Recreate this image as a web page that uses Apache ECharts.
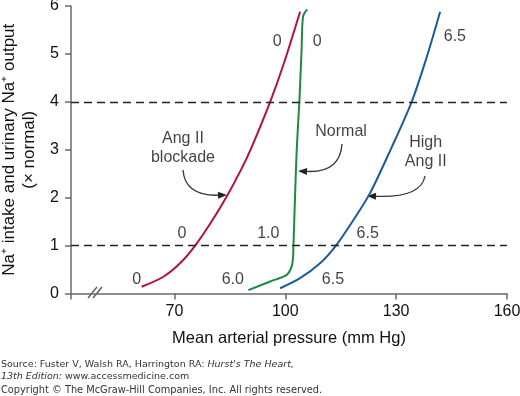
<!DOCTYPE html>
<html>
<head>
<meta charset="utf-8">
<style>
  html, body { margin: 0; padding: 0; background: #fff; }
  #chart { width: 520px; height: 396px; }
</style>
<script src="https://cdn.jsdelivr.net/npm/echarts@6/dist/echarts.min.js"></script>
</head>
<body>
<div id="chart"></div>
<script>
// curves: mean arterial pressure (mm Hg) vs Na+ output (x normal)
var blockadeX = [61.1, 67.0, 71.5, 75.5, 79.7, 84.1, 88.0, 90.7, 95.9, 99.6, 104.0]
var blockadeY = [0.14, 0.35, 0.63, 0.99, 1.46, 2.02, 2.58, 3.02, 4.00, 4.80, 5.88]
var normalX = [90.0, 95.9, 100.4, 101.7, 102.1, 102.2, 102.6, 103.1, 103.8, 104.4, 104.8, 105.9]
var normalY = [0.07, 0.25, 0.39, 0.56, 0.76, 0.99, 1.95, 3.02, 4.00, 5.08, 5.78, 5.93]
var highX = [98.6, 104.0, 109.4, 113.6, 118.4, 122.9, 128.6, 134.2, 138.3, 141.9]
var highY = [0.11, 0.32, 0.63, 0.99, 1.53, 2.09, 3.02, 4.00, 4.94, 5.88]

var dashedLevels = [1, 4]
var xTicks = [70, 100, 130, 160]

// small numbers next to the curves
var noteText = ['0', '0', '0', '6.0', '1.0', '0', '6.5', '6.5', '6.5']
var noteX = [59.8, 72.0, 97.8, 85.8, 95.4, 108.6, 112.9, 122.3, 145.9]
var noteY = [0.28, 1.26, 5.25, 0.28, 1.24, 5.25, 0.30, 1.26, 5.37]

var curveNames = ['Ang II\nblockade', 'Normal', 'High\nAng II']
var curveNameX = [72.3, 115.1, 138.0]
var curveNameY = [3.04, 3.37, 2.95]

var font = '"Liberation Sans", Arial, sans-serif'
var smallFont = '"DejaVu Sans", Verdana, sans-serif'

function zip(xs, ys) {
  return xs.map(function(x, i) { return [x, ys[i]] })
}

// curved arrow: quadratic bezier + filled head
function arrow(x1, y1, cx, cy, x2, y2) {
  var dx = x2 - cx
  var dy = y2 - cy
  var len = Math.sqrt(dx * dx + dy * dy)
  var ux = dx / len
  var uy = dy / len
  var hl = 9
  var hw = 3.5
  var bx = x2 - ux * hl
  var by = y2 - uy * hl
  return [
    {
      type: 'bezierCurve',
      shape: { x1: x1, y1: y1, cpx1: cx, cpy1: cy, x2: bx, y2: by },
      style: { stroke: '#333', lineWidth: 1.3, fill: null }
    },
    {
      type: 'polygon',
      shape: { points: [[x2, y2], [bx - uy * hw, by + ux * hw], [bx + uy * hw, by - ux * hw]] },
      style: { fill: '#222' }
    }
  ]
}

var chart = echarts.init(document.getElementById('chart'))

var axisColor = '#6a6a6a'

chart.setOption({
  animation: false,
  backgroundColor: '#fff',
  grid: { left: 71, right: 13, top: 6, bottom: 102.5, outerBoundsMode: 'none' },
  xAxis: {
    type: 'value',
    min: 42,
    max: 160,
    name: 'Mean arterial pressure (mm Hg)',
    nameLocation: 'middle',
    nameGap: 36,
    nameTextStyle: { fontFamily: font, fontSize: 16.5, color: '#111' },
    axisLine: { show: true, lineStyle: { color: axisColor, width: 1.5 } },
    axisTick: { show: true, length: 6, lineStyle: { color: axisColor, width: 1.5 }, customValues: [42].concat(xTicks) },
    axisLabel: { fontFamily: font, fontSize: 16, color: '#111', margin: 10, customValues: xTicks },
    splitLine: { show: false }
  },
  yAxis: {
    type: 'value',
    min: 0,
    max: 6,
    interval: 1,
    name: 'Na\u207A intake and urinary Na\u207A output\n(\u00D7 normal)',
    nameLocation: 'middle',
    nameGap: 25,
    nameTextStyle: { fontFamily: font, fontSize: 17, color: '#111', lineHeight: 20 },
    axisLine: { show: true, lineStyle: { color: axisColor, width: 1.5 } },
    axisTick: { show: true, length: 6, lineStyle: { color: axisColor, width: 1.5 } },
    axisLabel: { fontFamily: font, fontSize: 16, color: '#111', margin: 12 },
    splitLine: { show: false }
  },
  series: [
    {
      name: 'Ang II blockade',
      type: 'line',
      data: zip(blockadeX, blockadeY),
      smooth: 0.3,
      showSymbol: false,
      lineStyle: { color: '#b3123e', width: 2 },
      markLine: {
        silent: true,
        symbol: 'none',
        label: { show: false },
        lineStyle: { color: '#222', type: [8, 5], width: 1.3 },
        data: dashedLevels.map(function(v) { return { yAxis: v } })
      }
    },
    {
      name: 'Normal',
      type: 'line',
      data: zip(normalX, normalY),
      smooth: 0.3,
      showSymbol: false,
      lineStyle: { color: '#1d8a3e', width: 2 }
    },
    {
      name: 'High Ang II',
      type: 'line',
      data: zip(highX, highY),
      smooth: 0.3,
      showSymbol: false,
      lineStyle: { color: '#1b5b98', width: 2 }
    },
    {
      name: 'notes',
      type: 'scatter',
      symbolSize: 1,
      itemStyle: { color: 'rgba(0,0,0,0)' },
      silent: true,
      data: noteX.map(function(x, i) { return [x, noteY[i], noteText[i]] }),
      label: {
        show: true,
        position: 'inside',
        formatter: function(p) { return p.data[2] },
        fontFamily: font,
        fontSize: 16,
        color: '#111'
      }
    },
    {
      name: 'curve names',
      type: 'scatter',
      symbolSize: 1,
      itemStyle: { color: 'rgba(0,0,0,0)' },
      silent: true,
      data: curveNameX.map(function(x, i) { return [x, curveNameY[i], curveNames[i]] }),
      label: {
        show: true,
        position: 'inside',
        formatter: function(p) { return p.data[2] },
        fontFamily: font,
        fontSize: 16,
        lineHeight: 19,
        align: 'center',
        color: '#111'
      }
    }
  ],
  graphic: [].concat(
    arrow(183, 170, 185, 196, 227, 195),
    arrow(342, 144, 340, 173, 298, 171),
    arrow(425, 176, 421, 198, 367, 196),
    [
      // axis break
      { type: 'line', shape: { x1: 88, y1: 298, x2: 97, y2: 287 }, style: { stroke: '#555', lineWidth: 1.3 } },
      { type: 'line', shape: { x1: 93, y1: 298, x2: 102, y2: 287 }, style: { stroke: '#555', lineWidth: 1.3 } },
      {
        type: 'text', left: 1, top: 359,
        style: {
          text: 'Source: Fuster V, Walsh RA, Harrington RA: {i|Hurst\'s The Heart,}\n{i|13th Edition:} www.accessmedicine.com',
          fontFamily: smallFont, fontSize: 9.5, lineHeight: 12, fill: '#333',
          rich: { i: { fontStyle: 'italic', fontFamily: smallFont, fontSize: 9.5, fill: '#333' } }
        }
      },
      {
        type: 'text', left: 1, top: 385,
        style: {
          text: 'Copyright \u00A9 The McGraw-Hill Companies, Inc. All rights reserved.',
          fontFamily: smallFont, fontSize: 9.8, fill: '#333'
        }
      }
    ]
  )
})
</script>
</body>
</html>
